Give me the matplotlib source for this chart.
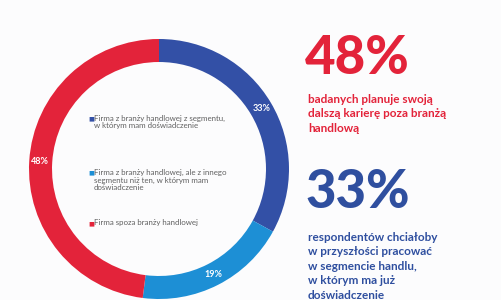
import matplotlib.pyplot as plt

# Data
shares = [33, 19, 48]
segment_labels = [
    "Firma z branży handlowej z segmentu,\nw którym mam doświadczenie",
    "Firma z branży handlowej, ale z innego\nsegmentu niż ten, w którym mam\ndoświadczenie",
    "Firma spoza branży handlowej",
]
colors = ["#3350a6", "#1d8fd5", "#e3233a"]

headline_values = ["48%", "33%"]
headline_texts = [
    "badanych planuje swoją\ndalszą karierę poza branżą\nhandlową",
    "respondentów chciałoby\nw przyszłości pracować\nw segmencie handlu,\nw którym ma już\ndoświadczenie",
]
headline_colors = ["#e3233a", "#2f4f9f"]

W, H = 501, 300
fig = plt.figure(figsize=(W / 100, H / 100), dpi=100, facecolor="#fcfcfd")

# Donut: center (159, 169) px, radius 130 px
cx, cy, r = 159, 169, 130
ax = fig.add_axes([(cx - r) / W, (H - cy - r) / H, 2 * r / W, 2 * r / H])
wedges, _, autotexts = ax.pie(
    shares, colors=colors, startangle=90, counterclock=False,
    radius=1, wedgeprops=dict(width=0.177, edgecolor="none"),
    autopct=lambda p: f"{p:.0f}%", pctdistance=0.915,
)
for t in autotexts:
    t.set_color("white")
    t.set_fontsize(6.5)
    t.set_fontweight("bold")
    t.set_family("Lato")
ax.set_xlim(-1, 1)
ax.set_ylim(-1, 1)
ax.set_aspect("equal")
ax.axis("off")

# Legend inside the ring
legend_y = [119, 173, 224]
for y, lab, col in zip(legend_y, segment_labels, colors):
    fig.text(88 / W, 1 - y / H, "■", color=col, fontsize=4.5, va="center", family="DejaVu Sans")
    fig.text(94 / W, 1 - (y - 4.5) / H, lab, color="#606060", fontsize=5.7, va="top",
             family="Lato", linespacing=1.15)

# Right-hand headline blocks
big_y = [58, 193]
small_y = [94, 232]
for by, sy, val, txt, col in zip(big_y, small_y, headline_values, headline_texts, headline_colors):
    fig.text(305 / W, 1 - by / H, val, color=col, fontsize=38, fontweight="black",
             family="Lato", va="center")
    fig.text(308 / W, 1 - sy / H, txt, color=col, fontsize=8.5, fontweight="bold",
             family="Lato", va="top", linespacing=1.38)

fig.savefig("out.png", dpi=100, facecolor=fig.get_facecolor())
